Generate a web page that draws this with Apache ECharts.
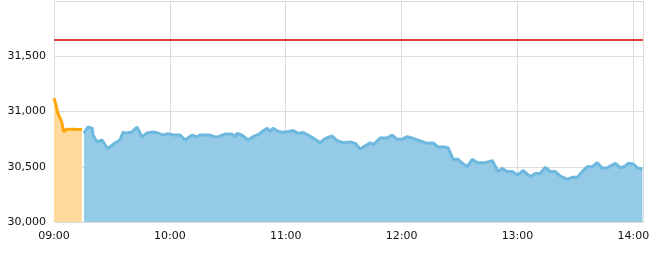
<!DOCTYPE html>
<html><head><meta charset="utf-8">
<script src="https://cdn.jsdelivr.net/npm/echarts@6/dist/echarts.min.js"></script>
<style>html,body{margin:0;padding:0;background:#fff}#c{width:662px;height:254px}</style>
</head><body><div id="c"></div>
<script>
const xTicks = ['09:00','10:00','11:00','12:00','13:00','14:00'];
const yTicks = [30000, 30500, 31000, 31500, 32000];
const refValue = 31650;

const preTimes = ['09:00','09:01','09:02','09:03','09:04','09:05','09:06','09:07','09:08','09:10','09:12','09:14.5'];
const preValues = [31120,31060,30985,30980,30905,30815,30835,30842,30840,30840,30838,30838];

const mainTimes = ['09:15.5','09:17.6','09:19.7','09:20.2','09:22.3','09:23.3','09:24.9','09:25.9','09:27.5','09:29','09:30','09:31.6',
'09:34.2','09:35.8','09:37.3','09:40.4','09:43','09:45.6','09:48.2','09:51.3','09:53.9','09:56.5','09:59','10:01.7',
'10:05.3','10:07.9','10:11.5','10:14.1','10:15.6','10:20.8','10:23.4','10:25','10:28.6','10:32.2','10:33.8','10:34.8',
'10:37.4','10:40.5','10:43.1','10:45.7','10:47.8','10:50.4','10:51.9','10:53.5','10:56.1','10:58.7','11:01.2','11:03.8',
'11:06.4','11:09','11:11.6','11:15.2','11:17.8','11:20.4','11:24','11:26.6','11:29.7','11:33.4','11:36','11:38.5',
'11:42.2','11:43.7','11:45.3','11:48.9','11:52.5','11:55.1','11:57.7','12:00.3','12:02.9','12:05.5','12:08.1','12:10.7',
'12:13.3','12:16.4','12:19','12:22.6','12:24.1','12:26.7','12:29.3','12:30.4','12:34','12:36.6','12:39.2','12:43.3',
'12:46.9','12:50','12:52.1','12:54.7','12:57.3','12:59.9','13:03','13:06.6','13:09.2','13:11.8','13:14.4','13:17',
'13:19.6','13:22.2','13:25.8','13:28.4','13:31','13:33.6','13:36.2','13:38.8','13:41.3','13:43.9','13:46.5','13:50.7',
'13:53.3','13:55.9','13:57.4','14:00','14:02.1','14:04.7'];
const mainValues = [30805,30860,30850,30787,30724,30720,30742,30730,30670,30679,30670,30715,
30742,30814,30805,30814,30860,30769,30805,30814,30805,30787,30800,30787,
30787,30742,30787,30770,30787,30787,30770,30772,30796,30796,30772,30802,
30785,30742,30772,30790,30818,30849,30820,30849,30818,30813,30818,30828,
30802,30810,30787,30748,30718,30755,30778,30736,30718,30725,30712,30660,
30700,30718,30700,30760,30760,30787,30748,30748,30773,30760,30742,30727,
30712,30715,30678,30678,30670,30567,30567,30546,30501,30567,30537,30537,
30556,30457,30485,30457,30457,30425,30466,30410,30440,30440,30495,30457,
30457,30416,30386,30404,30404,30457,30501,30501,30537,30488,30490,30531,
30490,30507,30531,30525,30490,30479];

function toMin(t){const [h,m]=t.split(':');return (parseInt(h,10)-9)*60+parseFloat(m);}
function fmt(v){const h=9+Math.floor(v/60);const m=Math.round(v%60);return (h<10?'0':'')+h+':'+(m<10?'0':'')+m;}
const preData = preTimes.map((t,i)=>[toMin(t),preValues[i]]);
const mainData = mainTimes.map((t,i)=>[toMin(t),mainValues[i]]);

const chart = echarts.init(document.getElementById('c'));
const font = 'DejaVu Sans';
chart.setOption({
  animation:false,
  grid:{left:54,right:19,top:1,bottom:32},
  xAxis:{type:'value',min:0,max:305,interval:60,
    axisLine:{show:false},axisTick:{show:false},
    splitLine:{show:true,lineStyle:{color:'#dcdcdc',width:1}},
    axisLabel:{formatter:v=>fmt(v),color:'#111',fontFamily:font,fontSize:11,margin:9,showMaxLabel:false}},
  yAxis:{type:'value',min:yTicks[0],max:yTicks[yTicks.length-1],interval:500,
    axisLine:{show:false},axisTick:{show:false},
    splitLine:{show:true,lineStyle:{color:'#dcdcdc',width:1}},
    axisLabel:{formatter:v=>v===32000?'':v.toLocaleString('en-US'),color:'#111',fontFamily:font,fontSize:11,margin:8}},
  series:[
    {type:'line',data:preData,showSymbol:false,symbol:'none',
      lineStyle:{color:'#FFA60D',width:3},areaStyle:{color:'#FFDA9C',opacity:1,origin:'start'}},
    {type:'line',data:mainData,showSymbol:false,symbol:'none',
      lineStyle:{color:'#6CB8DE',width:3},areaStyle:{color:'#95CAE6',opacity:1,origin:'start'},
      markLine:{symbol:'none',silent:true,label:{show:false},
        lineStyle:{color:'#E03B3B',width:2,type:'solid'},data:[{yAxis:refValue}]}}
  ]
});
</script></body></html>
